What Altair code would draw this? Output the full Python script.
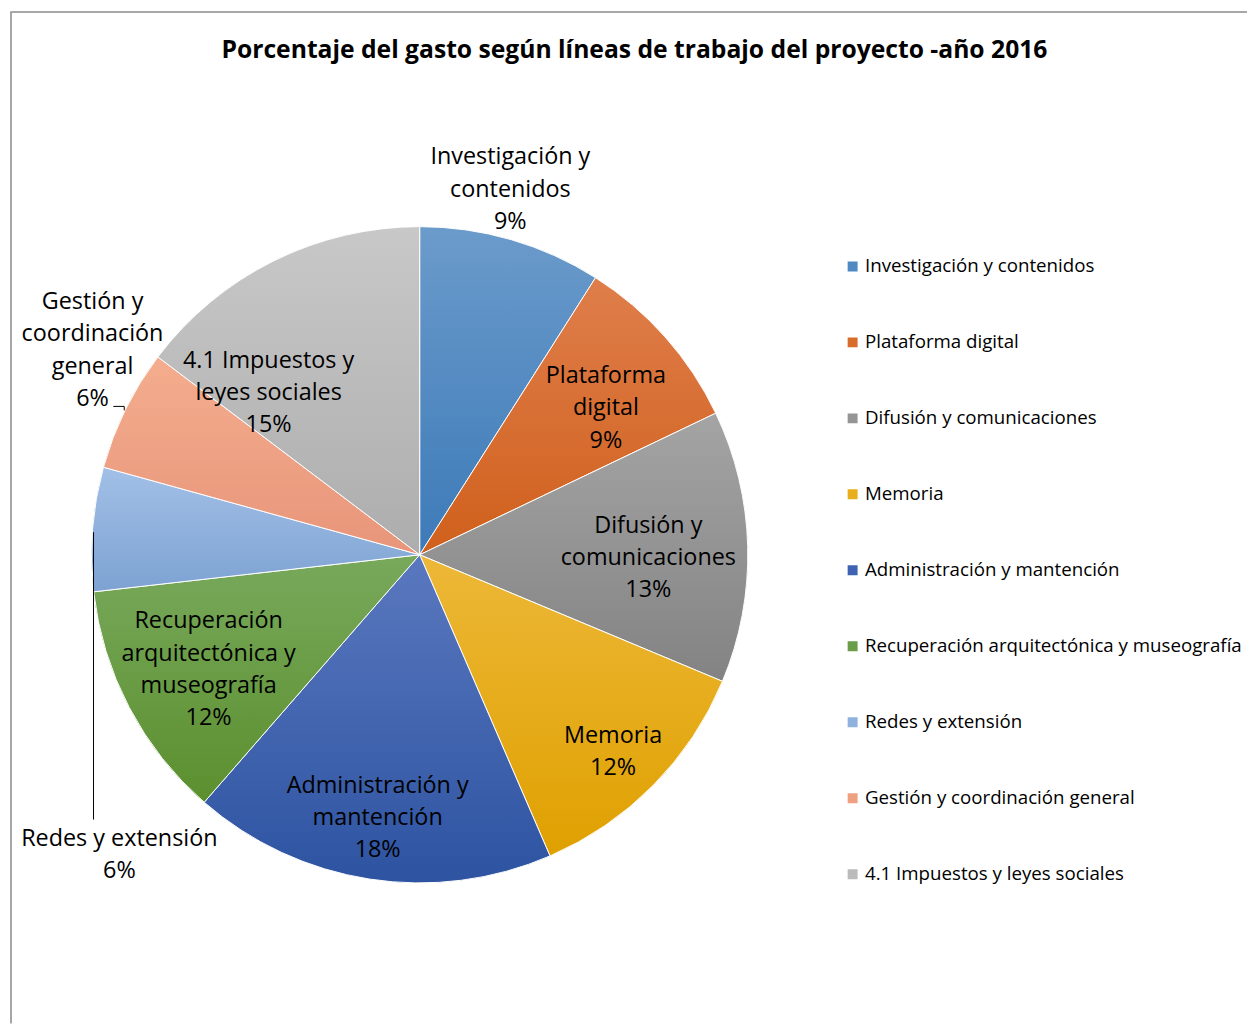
import math
import altair as alt
import pandas as pd

# ---------------- data ----------------
categories = [
    "Investigación y contenidos",
    "Plataforma digital",
    "Difusión y comunicaciones",
    "Memoria",
    "Administración y mantención",
    "Recuperación arquitectónica y museografía",
    "Redes y extensión",
    "Gestión y coordinación general",
    "4.1 Impuestos y leyes sociales",
]
# slice sizes (percent of the circle)
shares = [9.0, 8.9, 13.4, 12.2, 17.9, 11.8, 6.1, 6.0, 14.7]
# percentages printed on the data labels
pct_labels = [9, 9, 13, 12, 18, 12, 6, 6, 15]
label_lines = [
    ["Investigación y", "contenidos"],
    ["Plataforma", "digital"],
    ["Difusión y", "comunicaciones"],
    ["Memoria"],
    ["Administración y", "mantención"],
    ["Recuperación", "arquitectónica y", "museografía"],
    ["Redes y extensión"],
    ["Gestión y", "coordinación", "general"],
    ["4.1 Impuestos y", "leyes sociales"],
]
title_text = "Porcentaje del gasto según líneas de trabajo del proyecto -año 2016"

# ---------------- style ----------------
W, H = 1246, 1018
CX, CY, R = 414, 547, 330
FONT = "Open Sans"
LINE_H = 32.5
mid_colors = ["#4F8AC3", "#D86C2A", "#959595", "#E8AE1C", "#3F63B2",
              "#699D47", "#8FB2DE", "#EFA080", "#BBBBBB"]
top_colors = ["#6B9BCB", "#DF7E4B", "#A4A4A4", "#EDB838", "#5A78BF",
              "#78A95C", "#A2C0E7", "#F4AD8E", "#C8C8C8"]
bot_colors = ["#3C7AB8", "#D0601C", "#838383", "#DFA000", "#2D53A1",
              "#5B8F2E", "#7DA2D2", "#E8957A", "#ADADAD"]
# label placement: (radius, dx, dy) around the slice's mid angle
label_style = [
    (377, -14, -5),
    (237, 10, 10),
    (230, 0, 9),
    (279, -4, 2),
    (269, -1, -1),
    (242, 2, 3),
    (328, 25, 328),
    (387, 18, -34),
    (222, -53, 36),
]

# ---------------- tables ----------------
df = pd.DataFrame({"idx": list(range(len(categories))), "cat": categories, "share": shares})

total = sum(shares)
cum = 0.0
mids = []
for s in shares:
    mids.append((cum + s / 2) / total * 2 * math.pi)
    cum += s

lab_rows = []
centers = []
for i, (lines, p) in enumerate(zip(label_lines, pct_labels)):
    r, dx, dy = label_style[i]
    th = mids[i]
    lx = CX + r * math.sin(th) + dx
    ly = CY - r * math.cos(th) + dy
    all_lines = lines + [f"{p}%"]
    centers.append((lx, ly))
    # Vega puts the first line at y; shift so the block is centred on ly
    lab_rows.append({"lx": lx, "ly": ly - (len(all_lines) - 1) / 2 * LINE_H,
                     "text": "\n".join(all_lines)})
df_lab = pd.DataFrame(lab_rows)

RL = R - 2  # visible rim
lead_rows = []
# Redes y extensión: vertical leader down to its label
i = categories.index("Redes y extensión")
ex, ey = CX + RL * math.sin(mids[i]), CY - RL * math.cos(mids[i])
lead_rows += [{"grp": "red", "ord": 0, "x": ex - 1, "y": ey + 3},
              {"grp": "red", "ord": 1, "x": ex - 1, "y": centers[i][1] - 36}]
# Gestión: short elbow leader
i = categories.index("Gestión y coordinación general")
ex, ey = CX + RL * math.sin(mids[i]), CY - RL * math.cos(mids[i])
lead_rows += [{"grp": "ges", "ord": 0, "x": ex - 3, "y": ey},
              {"grp": "ges", "ord": 1, "x": ex - 3, "y": ey - 4},
              {"grp": "ges", "ord": 2, "x": ex - 14, "y": ey - 4}]
df_lead = pd.DataFrame(lead_rows)

# ---------------- chart ----------------
base = alt.Chart(df)

arcs = base.mark_arc(radius=R).encode(
    theta=alt.Theta("share:Q", stack=True),
    order=alt.Order("idx:Q"),
    fill=alt.Fill(
        "cat:N",
        scale=alt.Scale(domain=categories, range=mid_colors),
        sort=categories,
        legend=alt.Legend(
            title=None, orient="none", legendX=840, legendY=247,
            symbolType="square", symbolSize=100, symbolStrokeWidth=0,
            labelFont=FONT, labelFontSize=18.8, labelColor="#000000",
            labelLimit=600, labelOffset=3, rowPadding=56.4, clipHeight=20,
            padding=0,
        ),
    ),
    x=alt.value(CX),
    y=alt.value(CY),
)

grad_cond = []
for k in range(len(categories)):
    grad_cond.append({
        "test": f"datum.idx == {k}",
        "value": {
            "gradient": "linear", "x1": 0, "y1": 0, "x2": 0, "y2": 1,
            "stops": [{"offset": 0, "color": top_colors[k]},
                      {"offset": 1, "color": bot_colors[k]}],
        },
    })

grad = base.mark_arc(radius=R, stroke="white", strokeWidth=1).encode(
    theta=alt.Theta("share:Q", stack=True),
    order=alt.Order("idx:Q"),
    fill=alt.FillValue(value="transparent", condition=grad_cond),
    x=alt.value(CX),
    y=alt.value(CY),
)

labels = alt.Chart(df_lab).mark_text(
    font=FONT, fontSize=23.5, lineHeight=LINE_H, lineBreak="\n",
    align="center", baseline="middle", color="#000000",
).encode(
    x=alt.X("lx:Q", scale=None, axis=None),
    y=alt.Y("ly:Q", scale=None, axis=None),
    text="text:N",
)

leaders = alt.Chart(df_lead).mark_line(color="#000000", strokeWidth=1).encode(
    x=alt.X("x:Q", scale=None, axis=None),
    y=alt.Y("y:Q", scale=None, axis=None),
    detail="grp:N",
    order="ord:Q",
)

border_left = alt.Chart(df).mark_rule(color="#A6A6A6", strokeWidth=1).encode(
    x=alt.value(3), y=alt.value(1), y2=alt.value(H))
border_top = alt.Chart(df).mark_rule(color="#A6A6A6", strokeWidth=1).encode(
    x=alt.value(3), x2=alt.value(W), y=alt.value(1))

chart = alt.layer(border_left, border_top, arcs, grad, leaders, labels).properties(
    width=W, height=H, autosize="none", padding=0,
    title=alt.TitleParams(
        text=title_text, font=FONT, fontSize=24.8, fontWeight="bold",
        anchor="middle", offset=-52, dx=7, color="#000000",
    ),
).configure(background="white", view=alt.ViewConfig(stroke=None))

chart.save("out.html", embed_options={"renderer": "svg", "actions": False})
